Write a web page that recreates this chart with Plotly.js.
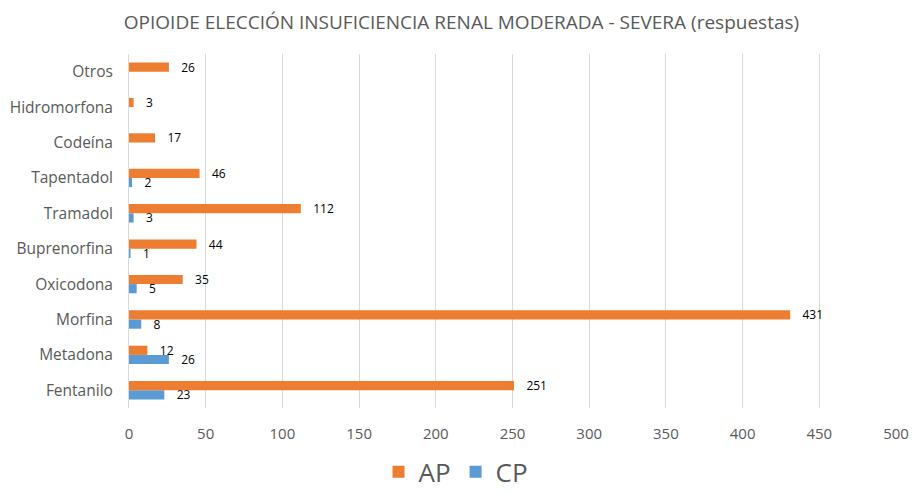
<!DOCTYPE html>
<html><head><meta charset="utf-8">
<script src="https://cdn.plot.ly/plotly-3.0.1.min.js"></script>
<style>body{margin:0;background:#fff}#c{width:912px;height:494px}</style>
</head><body><div id="c"></div>
<script>
const categories = ["Fentanilo","Metadona","Morfina","Oxicodona","Buprenorfina","Tramadol","Tapentadol","Codeína","Hidromorfona","Otros"];
const apValues = [251,12,431,35,44,112,46,17,3,26];
const cpValues = [23,26,8,5,1,3,2,null,null,null];
const xTicks = [0,50,100,150,200,250,300,350,400,450,500];

const font = "Open Sans, Liberation Sans, sans-serif";
const traces = [
  {type:'bar', orientation:'h', name:'CP', y:categories, x:cpValues, marker:{color:'#5B9BD5'},
   text:cpValues.map(v=>v==null?'':'   '+v), textposition:'outside', cliponaxis:false, constraintext:'none',
   textfont:{family:font,size:12,color:'#000'}, legendrank:2},
  {type:'bar', orientation:'h', name:'AP', y:categories, x:apValues, marker:{color:'#ED7D31'},
   text:apValues.map(v=>'   '+v), textposition:'outside', cliponaxis:false, constraintext:'none',
   textfont:{family:font,size:12,color:'#000'}, legendrank:1}
];
const layout = {
  width:912, height:494,
  margin:{l:129, r:16, t:54, b:86},
  paper_bgcolor:'#fff', plot_bgcolor:'#fff',
  title:{text:'OPIOIDE ELECCIÓN INSUFICIENCIA RENAL MODERADA - SEVERA (respuestas)', x:0.506, xanchor:'center', y:0.955, yanchor:'middle',
    font:{family:font, size:19, color:'#595959'}},
  barmode:'group', bargap:0.48, bargroupgap:0,
  xaxis:{range:[0,500], tickvals:xTicks, showgrid:true, gridcolor:'#D9D9D9', gridwidth:1, zeroline:false,
    showline:false, tickfont:{family:font,size:15,color:'#595959'}, ticks:'', automargin:false, ticklabelstandoff:15},
  yaxis:{showgrid:false, showline:true, linecolor:'#D9D9D9', tickfont:{family:font,size:15.5,color:'#595959'},
    ticks:'', automargin:false, ticklabelstandoff:12},
  showlegend:true,
  legend:{orientation:'h', x:0.5, xanchor:'center', xref:'container', y:0.045, yanchor:'middle', yref:'container',
    font:{family:font,size:26,color:'#595959'}, traceorder:'normal'},
  font:{family:font}
};
Plotly.newPlot('c', traces, layout, {displayModeBar:false, staticPlot:true});
</script></body></html>
